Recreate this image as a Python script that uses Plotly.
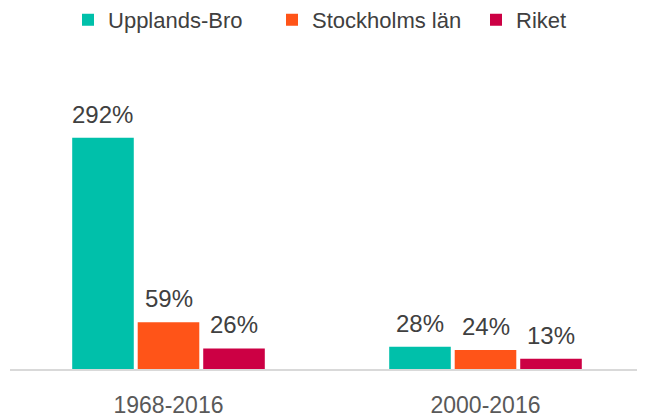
import plotly.graph_objects as go

categories = ["1968-2016", "2000-2016"]
series_names = ["Upplands-Bro", "Stockholms län", "Riket"]
upplands_bro = [292, 28]
stockholms_lan = [59, 24]
riket = [26, 13]
values = [upplands_bro, stockholms_lan, riket]
colors = ["#00C0AA", "#FF5418", "#CC0044"]

# page body has an 8px margin, so the figure is sized to fit the window
W, H = 637, 410
ML, MR, MT, MB = 2, 1, 42, 49
bargap, bargroupgap = 0.38, 0.06
cat_w = (W - ML - MR) / len(categories)
slot = cat_w * (1 - bargap) / len(series_names)

FONT = "Liberation Sans"

fig = go.Figure()
for i, (name, vals, col) in enumerate(zip(series_names, values, colors)):
    fig.add_trace(go.Bar(
        x=categories, y=vals, name=name,
        marker=dict(color=col, line=dict(width=0)),
    ))
    for c, v in zip(categories, vals):
        fig.add_annotation(
            x=c, y=v, text=f"{v}%", showarrow=False,
            xshift=(i - 1) * slot, yshift=8, yanchor="bottom",
            font=dict(size=24, color="#404040", family=FONT),
        )

fig.update_layout(
    width=W, height=H,
    margin=dict(l=ML, r=MR, t=MT, b=MB, autoexpand=False),
    paper_bgcolor="white", plot_bgcolor="white",
    barmode="group", bargap=bargap, bargroupgap=bargroupgap,
    font=dict(family=FONT, color="#595959", size=22),
    legend=dict(orientation="h", x=0.0915, xanchor="left", y=1.16, yref="paper",
                yanchor="top", font=dict(size=22, color="#404040", family=FONT),
                itemwidth=30, traceorder="normal",
                entrywidth=159, entrywidthmode="pixels"),
)
fig.update_xaxes(showline=True, linecolor="#D9D9D9", linewidth=2, ticks="",
                 ticklabelstandoff=14, tickfont=dict(size=23, color="#595959", family=FONT))
fig.update_yaxes(visible=False, range=[0, 403])

fig.write_html("out.html")
